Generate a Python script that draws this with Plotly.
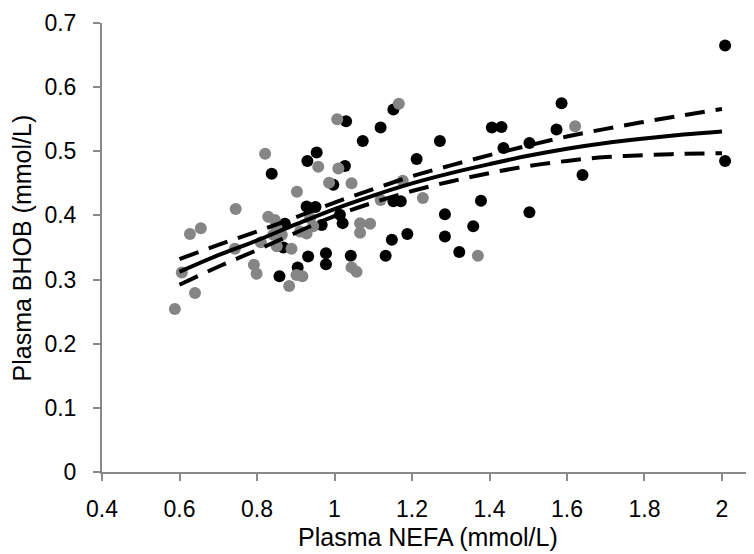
import plotly.graph_objects as go

# Black series
black_x = [0.838, 0.872, 0.868, 0.858, 0.954, 0.930, 1.030, 1.027, 0.997, 1.073,
           1.119, 1.152, 1.272, 1.406, 1.431, 1.212, 1.152, 1.171, 1.378, 1.285,
           1.358, 1.285, 1.188, 1.148, 1.132, 1.322, 1.042, 0.978, 0.978, 0.932,
           0.905, 0.928, 0.951, 0.967, 1.014, 1.021, 2.008, 1.586, 1.573, 1.503,
           1.436, 2.008, 1.640, 1.503]
black_y = [0.465, 0.387, 0.350, 0.305, 0.498, 0.485, 0.547, 0.477, 0.448, 0.516,
           0.537, 0.565, 0.516, 0.537, 0.538, 0.488, 0.422, 0.422, 0.423, 0.402,
           0.383, 0.367, 0.371, 0.362, 0.337, 0.343, 0.337, 0.341, 0.324, 0.336,
           0.319, 0.414, 0.413, 0.385, 0.401, 0.388, 0.665, 0.575, 0.534, 0.513,
           0.505, 0.485, 0.463, 0.405]

# Grey series
grey_x = [0.588, 0.606, 0.627, 0.655, 0.640, 0.745, 0.743, 0.792, 0.799, 0.810,
          0.821, 0.829, 0.846, 0.851, 0.842, 0.864, 0.851, 0.883, 0.889, 0.903,
          1.007, 0.958, 1.010, 0.986, 1.044, 1.166, 1.176, 1.119, 1.228, 1.370,
          1.066, 1.092, 1.066, 1.044, 1.057, 0.902, 0.917, 0.937, 0.945, 0.928,
          0.911, 1.621]
grey_y = [0.254, 0.311, 0.371, 0.380, 0.279, 0.410, 0.348, 0.323, 0.309, 0.358,
          0.496, 0.398, 0.393, 0.380, 0.370, 0.370, 0.352, 0.290, 0.348, 0.437,
          0.550, 0.476, 0.473, 0.451, 0.450, 0.574, 0.454, 0.424, 0.427, 0.337,
          0.388, 0.387, 0.373, 0.319, 0.312, 0.307, 0.305, 0.396, 0.383, 0.372,
          0.375, 0.539]

# Fitted curve and confidence band
curve_x = [0.6, 0.7, 0.8, 0.9, 1.0, 1.1, 1.2, 1.3, 1.4, 1.5, 1.6, 1.7, 1.8, 1.9, 2.0]
fit_y = [0.312, 0.338, 0.361, 0.386, 0.410, 0.431, 0.450, 0.466, 0.480, 0.493,
         0.504, 0.513, 0.520, 0.526, 0.531]
upper_y = [0.332, 0.354, 0.375, 0.397, 0.420, 0.441, 0.461, 0.478, 0.494, 0.509,
           0.523, 0.535, 0.546, 0.556, 0.566]
lower_y = [0.292, 0.320, 0.346, 0.373, 0.399, 0.420, 0.438, 0.453, 0.466, 0.477,
           0.485, 0.491, 0.494, 0.496, 0.497]

x_ticks = [0.4, 0.6, 0.8, 1.0, 1.2, 1.4, 1.6, 1.8, 2.0]
x_tick_labels = ["0.4", "0.6", "0.8", "1", "1.2", "1.4", "1.6", "1.8", "2"]
y_ticks = [0, 0.1, 0.2, 0.3, 0.4, 0.5, 0.6, 0.7]
y_tick_labels = ["0", "0.1", "0.2", "0.3", "0.4", "0.5", "0.6", "0.7"]
x_title = "Plasma NEFA (mmol/L)"
y_title = "Plasma BHOB (mmol/L)"

FONT = "Liberation Sans, Arial"

fig = go.Figure()
fig.add_trace(go.Scatter(x=black_x, y=black_y, mode="markers",
                         marker=dict(color="#000000", size=12), showlegend=False))
fig.add_trace(go.Scatter(x=grey_x, y=grey_y, mode="markers",
                         marker=dict(color="#858585", size=12), showlegend=False))
fig.add_trace(go.Scatter(x=curve_x, y=upper_y, mode="lines", line_shape="spline",
                         line=dict(color="#000000", width=4, dash="20px,11px"),
                         showlegend=False))
fig.add_trace(go.Scatter(x=curve_x, y=lower_y, mode="lines", line_shape="spline",
                         line=dict(color="#000000", width=4, dash="20px,11px"),
                         showlegend=False))
fig.add_trace(go.Scatter(x=curve_x, y=fit_y, mode="lines", line_shape="spline",
                         line=dict(color="#000000", width=4), showlegend=False))

axis_common = dict(showgrid=False, zeroline=False, showline=True, linecolor="#898989",
                   linewidth=2, ticks="outside", tickcolor="#898989", ticklen=7,
                   tickwidth=2, tickfont=dict(family=FONT, size=23, color="#000000"))
fig.update_xaxes(range=[0.4, 2.0826], tickvals=x_ticks, ticktext=x_tick_labels,
                 ticklabelstandoff=8, **axis_common)
fig.update_yaxes(range=[0, 0.7], tickvals=y_ticks, ticktext=y_tick_labels,
                 ticklabelstandoff=12, **axis_common)

fig.add_annotation(text=x_title, xref="paper", yref="paper", x=0.5, y=-0.1448,
                   xanchor="center", yanchor="middle", showarrow=False,
                   font=dict(family=FONT, size=25, color="#000000"))
fig.add_annotation(text=y_title, xref="paper", yref="paper", x=-0.1227, y=0.5,
                   xanchor="center", yanchor="middle", showarrow=False, textangle=-90,
                   font=dict(family=FONT, size=25, color="#000000"))

# The page body has an 8px margin, so the figure is 8px smaller to fit the window
fig.update_layout(width=746, height=546, margin=dict(l=94, r=0, t=15, b=82),
                  plot_bgcolor="white", paper_bgcolor="white")
fig.write_html("out.html")
